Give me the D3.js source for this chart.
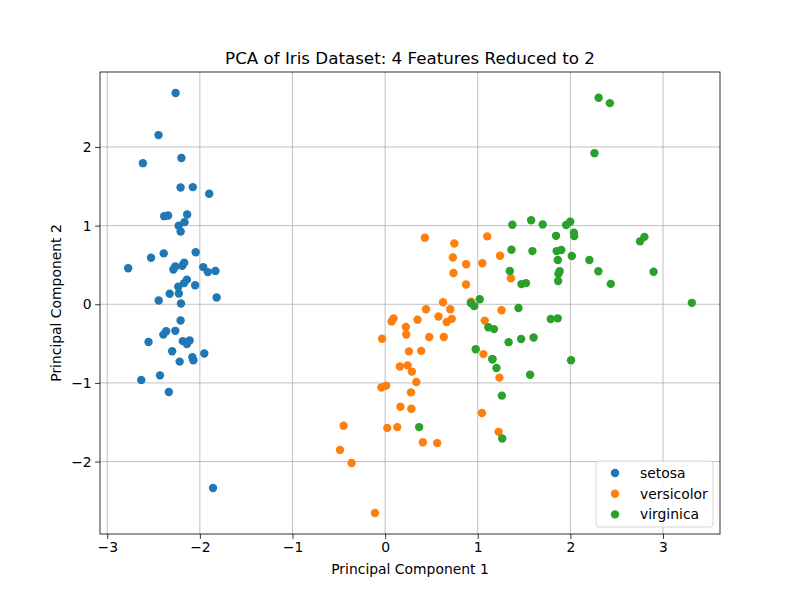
<!DOCTYPE html>
<html>
<head>
<meta charset="utf-8">
<script src="https://cdn.jsdelivr.net/npm/d3@7"></script>
<style>
body { margin: 0; background: #fff; }
text { font-family: "DejaVu Sans", sans-serif; }
</style>
</head>
<body>
<svg id="chart" width="800" height="600"></svg>
<script>
var species = ["setosa", "versicolor", "virginica"];
var colors = ["#1f77b4", "#ff7f0e", "#2ca02c"];

var setosa = [
  [-2.265, 0.480], [-2.081, -0.674], [-2.364, -0.342], [-2.299, -0.597], [-2.390, 0.647],
  [-2.076, 1.489], [-2.444, 0.048], [-2.233, 0.223], [-2.335, -1.115], [-2.184, -0.469],
  [-2.166, 1.044], [-2.326, 0.133], [-2.218, -0.729], [-2.633, -0.962], [-2.199, 1.860],
  [-2.262, 2.686], [-2.208, 1.484], [-2.190, 0.489], [-1.899, 1.405], [-2.343, 1.128],
  [-1.914, 0.409], [-2.207, 0.924], [-2.774, 0.458], [-1.819, 0.086], [-2.227, 0.137],
  [-1.952, -0.626], [-2.051, 0.242], [-2.169, 0.527], [-2.140, 0.313], [-2.265, -0.338],
  [-2.140, -0.505], [-1.832, 0.424], [-2.615, 1.794], [-2.446, 2.151], [-2.110, -0.460],
  [-2.208, -0.206], [-2.045, 0.662], [-2.527, 0.592], [-2.430, -0.904], [-2.170, 0.269],
  [-2.286, 0.442], [-1.858, -2.337], [-2.554, -0.479], [-1.964, 0.472], [-2.137, 1.142],
  [-2.070, -0.711], [-2.385, 1.120], [-2.394, -0.386], [-2.229, 0.998], [-2.204, 0.009]
];

var versicolor = [
  [1.102, 0.863], [0.731, 0.595], [1.241, 0.616], [0.407, -1.754], [1.075, -0.208],
  [0.389, -0.593], [0.747, 0.773], [-0.487, -1.852], [0.928, 0.032], [0.011, -1.034],
  [-0.110, -2.654], [0.441, -0.063], [0.562, -1.765], [0.720, -0.186], [-0.033, -0.439],
  [0.875, 0.509], [0.350, -0.196], [0.159, -0.792], [1.225, -1.622], [0.165, -1.303],
  [0.738, 0.397], [0.476, -0.417], [1.234, -0.933], [0.633, -0.416], [0.703, -0.063],
  [0.874, 0.251], [1.257, -0.077], [1.358, 0.331], [0.665, -0.226], [-0.040, -1.059],
  [0.131, -1.562], [0.023, -1.572], [0.242, -0.777], [1.061, -0.634], [0.224, -0.288],
  [0.429, 0.846], [1.049, 0.522], [1.045, -1.383], [0.070, -0.220], [0.283, -1.329],
  [0.279, -1.120], [0.625, 0.025], [0.337, -0.988], [-0.362, -2.019], [0.289, -0.856],
  [0.091, -0.181], [0.228, -0.385], [0.576, -0.155], [-0.448, -1.544], [0.257, -0.599]
];

var virginica = [
  [1.845, 0.870], [1.158, -0.699], [2.205, 0.562], [1.440, -0.047], [1.868, 0.295],
  [2.752, 0.800], [0.367, -1.562], [2.302, 0.420], [2.007, -0.711], [2.260, 1.921],
  [1.364, 0.693], [1.603, -0.422], [1.884, 0.419], [1.260, -1.162], [1.468, -0.442],
  [1.590, 0.676], [1.471, 0.256], [2.426, 2.557], [3.311, 0.018], [1.264, -1.707],
  [2.038, 0.910], [0.978, -0.572], [2.898, 0.414], [1.333, -0.482], [1.701, 1.014],
  [1.954, 1.008], [1.175, -0.316], [1.021, 0.064], [1.788, -0.187], [1.864, 0.562],
  [2.436, 0.259], [2.305, 2.626], [1.863, -0.179], [1.114, -0.293], [1.202, -0.811],
  [2.799, 0.857], [1.576, 1.069], [1.346, 0.422], [0.925, 0.017], [1.852, 0.676],
  [2.015, 0.614], [1.902, 0.690], [1.158, -0.699], [2.041, 0.868], [1.998, 1.049],
  [1.871, 0.387], [1.565, -0.897], [1.521, 0.269], [1.373, 1.011], [0.961, -0.024]
];

var xTicks = [-3, -2, -1, 0, 1, 2, 3];
var yTicks = [-2, -1, 0, 1, 2];

var groups = [setosa, versicolor, virginica];

var plotLeft = 100, plotRight = 720, plotTop = 72, plotBottom = 534;

var svg = d3.select("#chart");

var x = d3.scaleLinear().domain([-3.078, 3.615]).range([plotLeft, plotRight]);
var y = d3.scaleLinear().domain([-2.921, 2.953]).range([plotBottom, plotTop]);

// grid
svg.append("g").selectAll("line").data(xTicks).enter().append("line")
  .attr("x1", d => x(d)).attr("x2", d => x(d))
  .attr("y1", plotTop).attr("y2", plotBottom)
  .attr("stroke", "#b0b0b0").attr("stroke-width", 0.8);
svg.append("g").selectAll("line").data(yTicks).enter().append("line")
  .attr("x1", plotLeft).attr("x2", plotRight)
  .attr("y1", d => y(d)).attr("y2", d => y(d))
  .attr("stroke", "#b0b0b0").attr("stroke-width", 0.8);

// points
groups.forEach(function (g, i) {
  svg.append("g").selectAll("circle").data(g).enter().append("circle")
    .attr("cx", d => x(d[0]))
    .attr("cy", d => y(d[1]))
    .attr("r", 4.2)
    .attr("fill", colors[i]);
});

// axes
var fmt = d => d < 0 ? "\u2212" + Math.abs(d) : String(d);

var xAxis = svg.append("g")
  .attr("transform", "translate(0," + plotBottom + ")")
  .call(d3.axisBottom(x).tickValues(xTicks).tickFormat(fmt).tickSize(4.9).tickPadding(3.5));
var yAxis = svg.append("g")
  .attr("transform", "translate(" + plotLeft + ",0)")
  .call(d3.axisLeft(y).tickValues(yTicks).tickFormat(fmt).tickSize(4.9).tickPadding(3.5));

[xAxis, yAxis].forEach(function (a) {
  a.select(".domain").remove();
  a.selectAll(".tick line").attr("stroke", "#000").attr("stroke-width", 0.8);
  a.selectAll(".tick text").attr("font-size", 13.9).attr("fill", "#000")
    .style("font-family", "DejaVu Sans, sans-serif");
});

svg.append("rect")
  .attr("x", plotLeft).attr("y", plotTop)
  .attr("width", plotRight - plotLeft).attr("height", plotBottom - plotTop)
  .attr("fill", "none").attr("stroke", "#000").attr("stroke-width", 0.8);

// labels
svg.append("text")
  .attr("x", (plotLeft + plotRight) / 2).attr("y", 64)
  .attr("text-anchor", "middle").attr("font-size", 16.7)
  .text("PCA of Iris Dataset: 4 Features Reduced to 2");
svg.append("text")
  .attr("x", (plotLeft + plotRight) / 2).attr("y", 574)
  .attr("text-anchor", "middle").attr("font-size", 13.9)
  .text("Principal Component 1");
svg.append("text")
  .attr("transform", "translate(61," + (plotTop + plotBottom) / 2 + ") rotate(-90)")
  .attr("text-anchor", "middle").attr("font-size", 13.9)
  .text("Principal Component 2");

// legend
var legend = svg.append("g");
legend.append("rect")
  .attr("x", 596).attr("y", 461).attr("width", 117).attr("height", 66)
  .attr("rx", 3).attr("fill", "#fff").attr("fill-opacity", 0.8)
  .attr("stroke", "#cccccc").attr("stroke-width", 0.8);
var items = legend.selectAll("g").data(species).enter().append("g")
  .attr("transform", (d, i) => "translate(0," + (473 + i * 20.7) + ")");
items.append("circle").attr("cx", 615).attr("cy", 0).attr("r", 4.2)
  .attr("fill", (d, i) => colors[i]);
items.append("text").attr("x", 640).attr("y", 4.8)
  .attr("font-size", 13.9).text(d => d);
</script>
</body>
</html>
